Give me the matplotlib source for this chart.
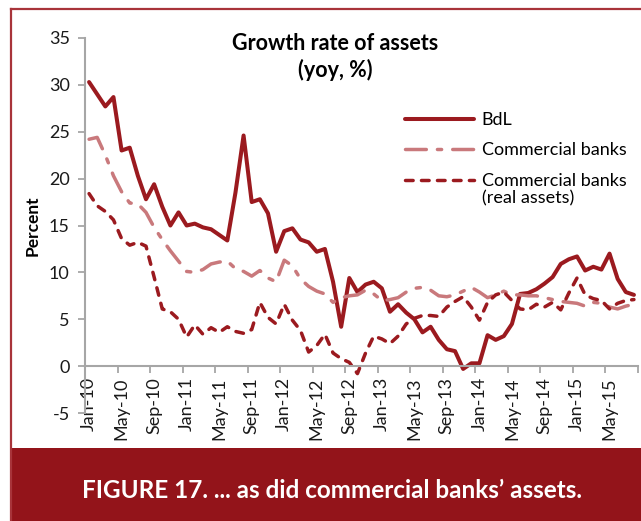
import numpy as np
import matplotlib.pyplot as plt
from matplotlib.patches import Rectangle
from matplotlib.lines import Line2D

plt.rcParams['font.family'] = ['Lato', 'DejaVu Sans']

# --- DATA (monthly, Jan-10 .. Aug-15, yoy %) ---
months = ['Jan', 'Feb', 'Mar', 'Apr', 'May', 'Jun',
          'Jul', 'Aug', 'Sep', 'Oct', 'Nov', 'Dec']
categories = [f"{m}-{y:02d}" for y in range(10, 16) for m in months][:68]

bdl = [30.3, 29.0, 27.7, 28.7, 23.0, 23.3, 20.3, 17.8, 19.4, 17.0, 15.0, 16.4,
       15.0, 15.2, 14.8, 14.6, 14.0, 13.4, 18.5, 24.6, 17.5, 17.8, 16.3, 12.2,
       14.4, 14.7, 13.5, 13.2, 12.2, 12.5, 9.0, 4.2, 9.4, 7.9, 8.7, 9.0,
       8.3, 5.8, 6.6, 5.7, 5.0, 3.6, 4.2, 2.8, 1.8, 1.6, -0.3, 0.3,
       0.3, 3.3, 2.8, 3.2, 4.5, 7.7, 7.8, 8.2, 8.8, 9.5, 10.9, 11.4,
       11.7, 10.2, 10.6, 10.3, 12.0, 9.3, 7.9, 7.6]

commercial = [24.2, 24.4, 22.5, 20.3, 18.6, 17.4, 17.3, 16.4, 14.8, 13.5, 12.3, 11.2,
              10.1, 10.0, 10.3, 10.9, 11.1, 11.2, 10.4, 10.1, 9.6, 10.2, 9.4, 9.0,
              11.3, 10.7, 9.3, 8.5, 8.0, 7.7, 6.8, 7.3, 7.5, 7.6, 8.1, 7.7,
              7.0, 7.1, 7.3, 7.9, 8.3, 8.4, 8.1, 7.5, 7.4, 7.6, 8.0, 8.4,
              7.9, 7.3, 7.6, 8.0, 7.6, 7.6, 7.5, 7.5, 7.3, 7.1, 6.9, 6.8,
              6.7, 6.4, 6.8, 6.7, 6.3, 6.1, 6.4, 6.6]

commercial_real = [18.4, 17.1, 16.5, 15.6, 13.6, 12.9, 13.2, 12.8, 9.5, 6.1, 5.8, 5.0,
                   3.1, 4.4, 3.4, 4.1, 3.6, 4.2, 3.7, 3.5, 3.9, 6.8, 5.2, 4.5,
                   6.6, 4.9, 3.8, 1.5, 2.2, 3.4, 1.4, 0.8, 0.4, -0.8, 1.4, 3.2,
                   2.9, 2.4, 3.2, 4.5, 5.1, 5.4, 5.4, 5.3, 6.3, 6.9, 7.4, 6.3,
                   4.9, 6.8, 7.6, 7.9, 7.0, 6.1, 6.0, 6.6, 6.3, 6.8, 6.0, 7.8,
                   9.4, 7.6, 7.2, 7.0, 6.1, 6.7, 7.0, 7.1]

y_ticks = [-5, 0, 5, 10, 15, 20, 25, 30, 35]

DARK_RED = '#9b1a1f'
PINK = '#c9797c'
BAND = '#93141a'
GREY = '#a6a6a6'

W, H = 641, 521
fig = plt.figure(figsize=(W / 100, H / 100), dpi=100)

# page frame and caption band
fig.add_artist(Line2D([11 / W, 1], [1 - 9 / H, 1 - 9 / H], color='#a8343a', lw=1.6))
fig.add_artist(Line2D([11 / W, 11 / W], [0, 1 - 9 / H], color='#a8343a', lw=1.6))
fig.add_artist(Rectangle((11 / W, 0), 1 - 11 / W, (H - 448) / H,
                         transform=fig.transFigure, color=BAND, lw=0))
fig.text(332 / W, 1 - 490 / H, "FIGURE 17. ... as did commercial banks\u2019 assets.",
         color='white', fontsize=17.5, fontweight='bold', ha='center', va='center')

ax = fig.add_axes([85 / W, 1 - 413 / H, (638 - 85) / W, (413 - 38) / H])
x = np.arange(len(categories))

ax.plot(x, bdl, color=DARK_RED, lw=2.9, solid_capstyle='round',
        solid_joinstyle='round', label='BdL')
ax.plot(x, commercial, color=PINK, lw=2.5, dashes=(6, 3.2, 1.2, 3.2),
        dash_capstyle='round', label='Commercial banks')
ax.plot(x, commercial_real, color=DARK_RED, lw=2.5, dashes=(2.2, 2.4),
        dash_capstyle='round', label='Commercial banks')

ax.set_xlim(-0.5, len(categories) - 0.5)
ax.set_ylim(-5, 35)

for s in ['top', 'right']:
    ax.spines[s].set_visible(False)
ax.spines['bottom'].set_position(('data', 0))
for s in ['left', 'bottom']:
    ax.spines[s].set_color(GREY)
    ax.spines[s].set_linewidth(1.5)

ax.set_yticks(y_ticks)
ax.set_yticklabels([str(v) for v in y_ticks])
ax.tick_params(axis='y', direction='out', length=5, width=1.3, color=GREY,
               labelsize=13, pad=6, labelcolor='#1a1a1a')

ax.set_xticks(np.arange(-0.5, len(categories), 4))
ax.set_xticklabels([])
ax.set_xticks(x[::4], minor=True)
ax.set_xticklabels(categories[::4], minor=True, rotation=90)
ax.tick_params(axis='x', which='major', direction='out', length=5, width=1.3, color=GREY)
ax.tick_params(axis='x', which='minor', length=0, labelsize=13, pad=8,
               labelcolor='#1a1a1a')

ax.set_ylabel('Percent', fontsize=12.5, fontweight='bold', labelpad=6)

fig.text(335 / W, 1 - 43 / H, 'Growth rate of assets', fontsize=15.5,
         fontweight='bold', ha='center', va='center')
fig.text(335 / W, 1 - 70 / H, '(yoy, %)', fontsize=15.5,
         fontweight='bold', ha='center', va='center')

leg = ax.legend(loc='upper left', bbox_to_anchor=(405 / W, 1 - 112 / H),
                bbox_transform=fig.transFigure, frameon=False, fontsize=13,
                handlelength=3.8, handletextpad=0.45, labelspacing=0.8,
                borderpad=0, borderaxespad=0)

# second line of the third legend label, aligned under its first line
fig.canvas.draw()
bb = leg.get_texts()[2].get_window_extent().transformed(fig.transFigure.inverted())
fig.text(bb.x0, bb.y0 - 1 / H, '(real assets)', fontsize=13, ha='left', va='top')

fig.savefig('out.png', dpi=100)
